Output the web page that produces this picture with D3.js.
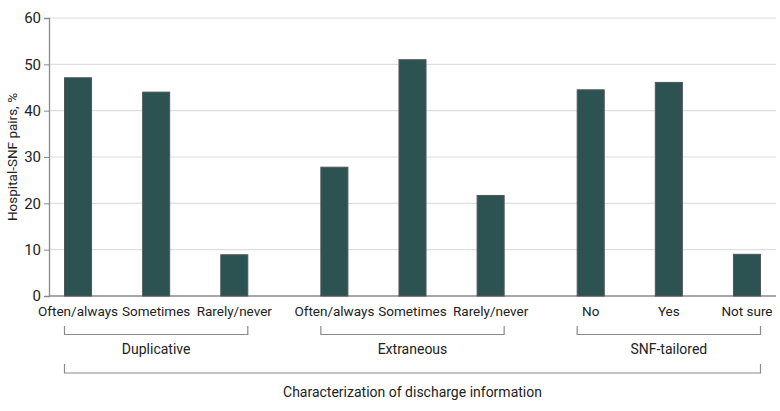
<!DOCTYPE html>
<html>
<head>
<meta charset="utf-8">
<script src="https://cdn.jsdelivr.net/npm/d3@7"></script>
<style>
  body { margin: 0; background: #fff; }
  text { font-family: Roboto, "Liberation Sans", Arial, sans-serif; fill: #222; }
</style>
</head>
<body>
<div id="chart"></div>
<script>
// groups and categories
let groups = ["Duplicative", "Extraneous", "SNF-tailored"]
let categories = [
  ["Often/always", "Sometimes", "Rarely/never"],
  ["Often/always", "Sometimes", "Rarely/never"],
  ["No", "Yes", "Not sure"]
]
let values = [
  [47.1, 44.0, 8.9],
  [27.8, 51.0, 21.7],
  [44.5, 46.1, 9.0]
]
let yTicks = [0, 10, 20, 30, 40, 50, 60]
let yLabel = "Hospital-SNF pairs, %"
let xTitle = "Characterization of discharge information"

var width = 780,
    height = 411

let margin = {
  'top' : 18,
  'right' : 4,
  'bottom' : 115,
  'left' : 49
}

var svg = d3.select("#chart").append('svg')
    .attr('width', width)
    .attr('height', height)

let plotW = width - margin.left - margin.right,
    plotH = height - margin.top - margin.bottom

let g = svg.append('g')
    .attr('transform', `translate(${margin.left},${margin.top})`)

let y = d3.scaleLinear()
    .domain([0, 60])
    .range([plotH, 0])

// outer scale for the groups, inner for the bars of one group
let xGroup = d3.scaleBand()
    .domain(groups)
    .range([0, plotW])
    .paddingInner(0.224)
    .paddingOuter(0.03)

let xBar = d3.scaleBand()
    .domain([0, 1, 2])
    .range([0, xGroup.bandwidth()])
    .paddingInner(0.654)
    .paddingOuter(0.1)

// gridlines
g.append('g')
    .selectAll('line')
    .data(yTicks.filter(d => d > 0))
    .enter().append('line')
    .attr('x1', 0)
    .attr('x2', plotW)
    .attr('y1', d => y(d))
    .attr('y2', d => y(d))
    .attr('stroke', '#dedede')
    .attr('stroke-width', 1.2)

// y axis
let yAxis = g.append('g')
    .call(d3.axisLeft(y).tickValues(yTicks).tickSize(5).tickPadding(3))
yAxis.select('.domain').attr('stroke', '#8a8a8a').attr('stroke-width', 1.3)
yAxis.selectAll('.tick line').attr('stroke', '#8a8a8a')
yAxis.selectAll('.tick text')
    .style('font-size', '15px')
    .attr('fill', '#222')

// baseline
g.append('line')
    .attr('x1', 0)
    .attr('x2', plotW)
    .attr('y1', y(0))
    .attr('y2', y(0))
    .attr('stroke', '#8a8a8a')
    .attr('stroke-width', 1.3)

// y title
svg.append('text')
    .attr('transform', `translate(17,${margin.top + plotH / 2}) rotate(-90)`)
    .attr('text-anchor', 'middle')
    .style('font-size', '13.5px')
    .text(yLabel)

// bars + labels, one group at a time
let grp = g.selectAll('.grp')
    .data(groups)
    .enter().append('g')
    .attr('class', 'grp')
    .attr('transform', d => `translate(${xGroup(d)},0)`)

grp.selectAll('rect')
    .data((d, i) => values[i])
    .enter().append('rect')
    .attr('x', (d, j) => xBar(j))
    .attr('width', xBar.bandwidth())
    .attr('y', d => y(d))
    .attr('height', d => y(0) - y(d))
    .attr('fill', '#2c5352')
    .attr('stroke', '#505555')
    .attr('stroke-width', 1)

grp.selectAll('.cat')
    .data((d, i) => categories[i])
    .enter().append('text')
    .attr('class', 'cat')
    .attr('x', (d, j) => xBar(j) + xBar.bandwidth() / 2)
    .attr('y', plotH + 20)
    .attr('text-anchor', 'middle')
    .style('font-size', '13.5px')
    .text(d => d)

// group brackets
let bx0 = xBar(0),
    bx1 = xBar(2) + xBar.bandwidth()

grp.append('path')
    .attr('d', `M${bx0},${plotH + 30}V${plotH + 38.5}H${bx1}V${plotH + 30}`)
    .attr('fill', 'none')
    .attr('stroke', '#8a8a8a')
    .attr('stroke-width', 1.2)

grp.append('text')
    .attr('x', (bx0 + bx1) / 2)
    .attr('y', plotH + 58)
    .attr('text-anchor', 'middle')
    .style('font-size', '14px')
    .text(d => d)

// overall bracket
let ox0 = xGroup(groups[0]) + bx0,
    ox1 = xGroup(groups[2]) + bx1

g.append('path')
    .attr('d', `M${ox0},${plotH + 68}V${plotH + 77}H${ox1}V${plotH + 68}`)
    .attr('fill', 'none')
    .attr('stroke', '#8a8a8a')
    .attr('stroke-width', 1.2)

g.append('text')
    .attr('x', (ox0 + ox1) / 2)
    .attr('y', plotH + 101)
    .attr('text-anchor', 'middle')
    .style('font-size', '14px')
    .text(xTitle)
</script>
</body>
</html>
